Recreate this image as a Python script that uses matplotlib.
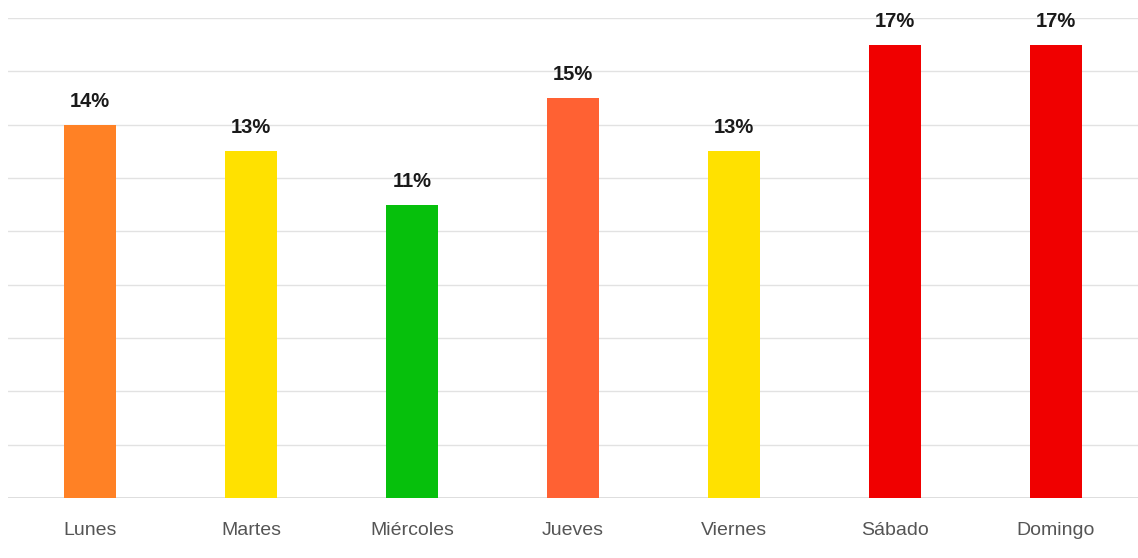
import matplotlib
matplotlib.use('Agg')
import matplotlib.pyplot as plt

# weekday share
days = ['Lunes', 'Martes', 'Miércoles', 'Jueves', 'Viernes', 'Sábado', 'Domingo']
values = [14, 13, 11, 15, 13, 17, 17]
colors = ['#FF8125', '#FFE100', '#06C00C', '#FF6133', '#FFE100', '#F00000', '#F00000']

fig = plt.figure(figsize=(11.38, 5.58), dpi=100, facecolor='white')
ax = fig.add_axes([8 / 1138, 60 / 558, 1130 / 1138, 480 / 558])

x = range(len(days))
bars = ax.bar(x, values, width=0.32, color=colors, zorder=3)

for b, v in zip(bars, values):
    ax.annotate(f'{v}%', (b.get_x() + b.get_width() / 2, v),
                xytext=(0, 10), textcoords='offset points',
                ha='center', va='bottom', fontsize=14.5, fontweight='bold',
                color='#1a1a1a', family=['Liberation Sans', 'DejaVu Sans'])

ax.set_xlim(-0.51, 6.51)
ax.set_ylim(0, 18)
ax.set_yticks(range(0, 19, 2))
ax.yaxis.grid(True, color='#e2e2e2', linewidth=1, zorder=0)
ax.axhline(0, color='#d8d8d8', linewidth=1.2, zorder=1)
ax.tick_params(axis='y', left=False, labelleft=False)
ax.tick_params(axis='x', bottom=False, pad=14)
ax.set_xticks(list(x))
ax.set_xticklabels(days, fontsize=14, color='#555555',
                   family=['Liberation Sans', 'DejaVu Sans'])
for s in ax.spines.values():
    s.set_visible(False)

fig.savefig('out.png', dpi=100, facecolor='white')
